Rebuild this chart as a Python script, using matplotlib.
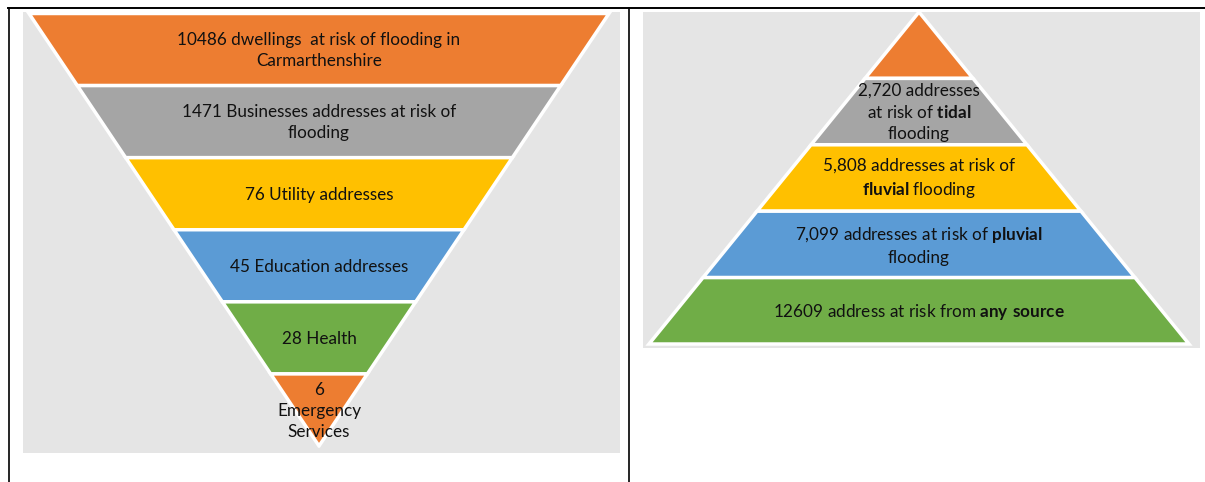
import matplotlib
matplotlib.use('Agg')
from matplotlib import pyplot as plt
from matplotlib.patches import Polygon, Rectangle

plt.rcParams['font.family'] = ['Lato', 'DejaVu Sans']
plt.rcParams['mathtext.fontset'] = 'custom'
plt.rcParams['mathtext.rm'] = 'Lato'
plt.rcParams['mathtext.bf'] = 'Lato:bold'

# left funnel, top to bottom
funnel_labels = ['10486 dwellings  at risk of flooding in\nCarmarthenshire',
                 '1471 Businesses addresses at risk of\nflooding',
                 '76 Utility addresses',
                 '45 Education addresses',
                 '28 Health',
                 '6\nEmergency\nServices']
funnel_colors = ['#ED7D31', '#A5A5A5', '#FFC000', '#5B9BD5', '#70AD47', '#ED7D31']

# right pyramid, top to bottom
pyramid_labels = ['',
                  '2,720 addresses\nat risk of $\\mathbf{tidal}$\nflooding',
                  '5,808 addresses at risk of\n$\\mathbf{fluvial}$ flooding',
                  '7,099 addresses at risk of $\\mathbf{pluvial}$\nflooding',
                  '12609 address at risk from $\\mathbf{any\\ source}$']
pyramid_colors = ['#ED7D31', '#A5A5A5', '#FFC000', '#5B9BD5', '#70AD47']

fig = plt.figure(figsize=(12.05, 4.82), dpi=100)
ax = fig.add_axes([0, 0, 1, 1])
ax.set_xlim(0, 1205)
ax.set_ylim(482, 0)
ax.axis('off')

# table borders
ax.plot([8, 1205], [7.5, 7.5], color='black', lw=1.4)
ax.plot([8.5, 8.5], [7.5, 482], color='black', lw=1.2)
ax.plot([628.5, 628.5], [7.5, 482], color='black', lw=1.2)

# backgrounds
ax.add_patch(Rectangle((23, 12), 597, 441, color='#E5E5E5', lw=0))
ax.add_patch(Rectangle((643, 12), 557, 336, color='#E5E5E5', lw=0))

fs = 12.3
ls = 1.4

# funnel: wide at top, apex at bottom
cx, top, bottom, half = 319, 13.5, 446, 290
n = len(funnel_labels)
h = (bottom - top) / n
for i in range(n):
    y0 = top + i * h
    y1 = y0 + h
    w0 = half * (bottom - y0) / (bottom - top)
    w1 = half * (bottom - y1) / (bottom - top)
    ax.add_patch(Polygon([(cx - w0, y0), (cx + w0, y0), (cx + w1, y1), (cx - w1, y1)],
                         closed=True, facecolor=funnel_colors[i], edgecolor='white', lw=2.5))
    ty = (y0 + y1) / 2 + 1
    if i == n - 1:
        ty = y0 + 37
    ax.text(cx, ty, funnel_labels[i], ha='center', va='center', fontsize=fs,
            color='#111111', linespacing=ls)

# pyramid: apex at top
cx2, top2, bottom2, half2 = 919, 12, 344, 270
m = len(pyramid_labels)
h2 = (bottom2 - top2) / m
for i in range(m):
    y0 = top2 + i * h2
    y1 = y0 + h2
    w0 = half2 * (y0 - top2) / (bottom2 - top2)
    w1 = half2 * (y1 - top2) / (bottom2 - top2)
    ax.add_patch(Polygon([(cx2 - w0, y0), (cx2 + w0, y0), (cx2 + w1, y1), (cx2 - w1, y1)],
                         closed=True, facecolor=pyramid_colors[i], edgecolor='white', lw=2.5))
    if pyramid_labels[i]:
        ax.text(cx2, (y0 + y1) / 2 + 1, pyramid_labels[i], ha='center', va='center',
                fontsize=fs, color='#111111', linespacing=ls)

fig.savefig('out.png', dpi=100)
